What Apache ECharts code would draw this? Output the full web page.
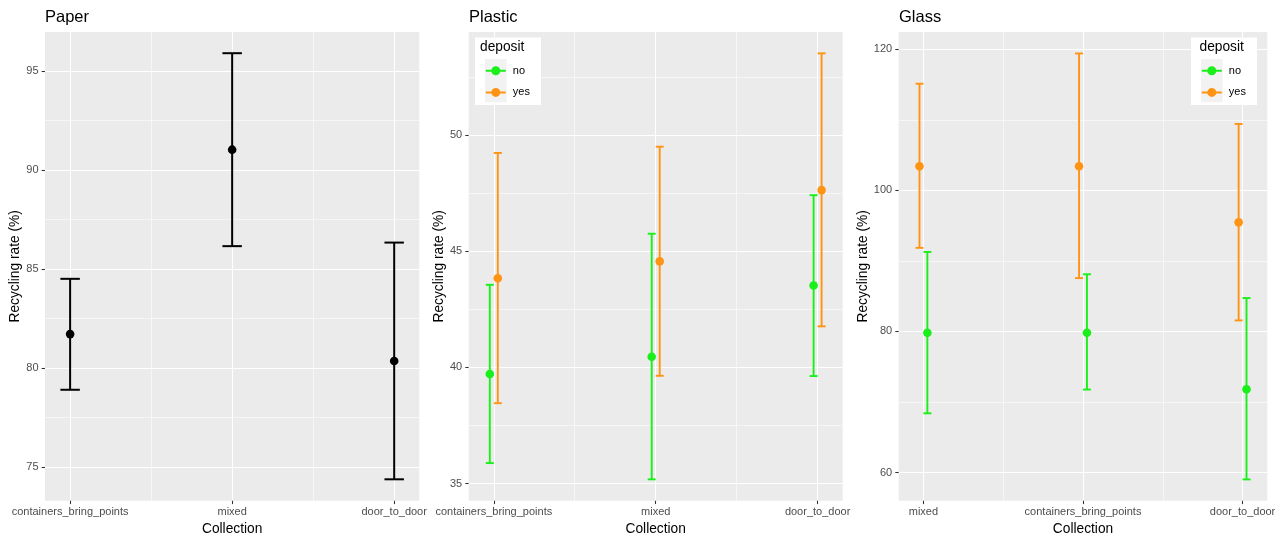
<!DOCTYPE html>
<html><head><meta charset="utf-8">
<script src="https://cdn.jsdelivr.net/npm/echarts@6/dist/echarts.min.js"></script>
<style>html,body{margin:0;padding:0;background:#fff}#c{width:1284px;height:539px}</style>
</head><body><div id="c"></div>
<script>
// ---------- data ----------
const paperCats = ['containers_bring_points', 'mixed', 'door_to_door'];
const paperMean = [81.72, 91.03, 80.36];
const paperLow  = [78.91, 86.16, 74.39];
const paperHigh = [84.51, 95.90, 86.34];

const plasticCats = ['containers_bring_points', 'mixed', 'door_to_door'];
const plasticNoMean  = [39.72, 40.46, 43.53];
const plasticNoLow   = [35.88, 35.18, 39.63];
const plasticNoHigh  = [43.56, 45.76, 47.42];
const plasticYesMean = [43.84, 44.57, 47.64];
const plasticYesLow  = [38.46, 39.64, 41.77];
const plasticYesHigh = [49.24, 49.51, 53.53];

const glassCats = ['mixed', 'containers_bring_points', 'door_to_door'];
const glassNoMean  = [79.80, 79.80, 71.80];
const glassNoLow   = [68.39, 71.76, 59.02];
const glassNoHigh  = [91.27, 88.10, 84.73];
const glassYesMean = [103.41, 103.41, 95.46];
const glassYesLow  = [91.85, 87.56, 81.56];
const glassYesHigh = [115.12, 119.41, 109.41];

const paperTicks = [75, 80, 85, 90, 95];
const paperMinor = [77.5, 82.5, 87.5, 92.5];
const plasticTicks = [35, 40, 45, 50];
const plasticMinor = [37.5, 42.5, 47.5, 52.5];
const glassTicks = [60, 80, 100, 120];
const glassMinor = [70, 90, 110];

const legendNames = ['no', 'yes'];
const panelTitles = ['Paper', 'Plastic', 'Glass'];

// ---------- style ----------
const FONT = '"Liberation Sans", Arial, Helvetica, sans-serif';
const GREEN = '#19ef19';
const ORANGE = '#ff9414';
const BLACK = '#000000';
const DODGE = 0.0247;

const chart = echarts.init(document.getElementById('c'), null, {renderer: 'canvas'});

function xAxesFor(gi, cats) {
  const idx = cats.map((_, i) => i);
  const minor = cats.slice(1).map((_, i) => i + 0.5);
  return [
    {
      type: 'value', gridIndex: gi, min: -0.155, max: 2.155,
      name: 'Collection', nameLocation: 'middle', nameGap: 16,
      nameTextStyle: {fontSize: 13.75, color: '#000', fontFamily: FONT},
      axisLine: {show: false, onZero: false},
      axisTick: {show: true, customValues: idx, length: 3.4, lineStyle: {color: '#333', width: 1.07}},
      axisLabel: {customValues: idx, formatter: v => cats[Math.round(v)], margin: 5.5,
                  fontSize: 11, color: '#4D4D4D', fontFamily: FONT},
      splitLine: {show: true, lineStyle: {color: '#fff', width: 1.07}}
    },
    {
      type: 'value', gridIndex: gi, min: -0.155, max: 2.155,
      axisLine: {show: false, onZero: false},
      axisTick: {show: false, customValues: minor},
      axisLabel: {show: false, customValues: minor},
      splitLine: {show: true, lineStyle: {color: '#fff', width: 0.55}}
    }
  ];
}

function yAxesFor(gi, ticks, minor, ymin, ymax, gap) {
  return [
    {
      type: 'value', gridIndex: gi, min: ymin, max: ymax, position: 'left',
      name: 'Recycling rate (%)', nameLocation: 'middle', nameGap: gap,
      nameTextStyle: {fontSize: 13.75, color: '#000', fontFamily: FONT},
      axisLine: {show: false, onZero: false},
      axisTick: {show: true, customValues: ticks, length: 3.4, lineStyle: {color: '#333', width: 1.07}},
      axisLabel: {customValues: ticks, margin: 6.5, fontSize: 11, color: '#4D4D4D', fontFamily: FONT},
      splitLine: {show: true, lineStyle: {color: '#fff', width: 1.07}}
    },
    {
      type: 'value', gridIndex: gi, min: ymin, max: ymax, position: 'left',
      axisLine: {show: false, onZero: false},
      axisTick: {show: false, customValues: minor},
      axisLabel: {show: false, customValues: minor},
      splitLine: {show: true, lineStyle: {color: '#fff', width: 0.55}}
    }
  ];
}

function errSeries(name, gi, offset, low, high, color, capHalf, lw) {
  return {
    type: 'custom', name: name, xAxisIndex: gi * 2, yAxisIndex: gi * 2,
    itemStyle: {color: color},
    encode: {x: 0, y: [1, 2]},
    data: low.map((l, i) => [i + offset, l, high[i]]),
    renderItem: (params, api) => {
      const x = api.value(0), lo = api.value(1), hi = api.value(2);
      const top = api.coord([x, hi]), bot = api.coord([x, lo]);
      const l = api.coord([x - capHalf, hi])[0], r = api.coord([x + capHalf, hi])[0];
      const style = {stroke: color, lineWidth: lw, fill: null};
      return {type: 'group', children: [
        {type: 'line', shape: {x1: top[0], y1: top[1], x2: bot[0], y2: bot[1]}, style: style},
        {type: 'line', shape: {x1: l, y1: top[1], x2: r, y2: top[1]}, style: style},
        {type: 'line', shape: {x1: l, y1: bot[1], x2: r, y2: bot[1]}, style: style}
      ]};
    },
    z: 2
  };
}

function ptSeries(name, gi, offset, mean, color) {
  return {
    type: 'scatter', name: name, xAxisIndex: gi * 2, yAxisIndex: gi * 2,
    symbol: 'circle', symbolSize: 8.6,
    itemStyle: {color: color, opacity: 1},
    data: mean.map((m, i) => [i + offset, m]),
    z: 3
  };
}

const ICON = 'path://M1,10L21,10L21,12L1,12ZM6.5,11A4.5,4.5,0,1,1,15.5,11A4.5,4.5,0,1,1,6.5,11Z';

function legendAt(left, top) {
  return {
    data: legendNames.map(n => ({name: n, icon: ICON})),
    orient: 'vertical', left: left, top: top, padding: 0,
    itemWidth: 20, itemHeight: 9, itemGap: 0,
    selectedMode: false,
    textStyle: {fontSize: 11, color: '#000', fontFamily: FONT, lineHeight: 21.6, padding: [0, 0, 0, 2]},
    z: 5
  };
}

function legendBox(x, y) {
  return [
    {type: 'rect', shape: {x: x, y: y, width: 66, height: 67.5}, style: {fill: '#fff'}, z: 3},
    {type: 'rect', shape: {x: x + 10, y: y + 21.5, width: 21.6, height: 43.2}, style: {fill: '#F2F2F2'}, z: 3}
  ];
}

const TS = {fontSize: 16.5, fontWeight: 'normal', color: '#000', fontFamily: FONT};
const LS = {fontSize: 13.75, fontWeight: 'normal', color: '#000', fontFamily: FONT};

const G = {show: true, backgroundColor: '#EBEBEB', borderWidth: 0, containLabel: false, outerBoundsMode: 'none'};

const option = {
  animation: false,
  backgroundColor: '#fff',
  title: [
    {text: panelTitles[0], left: 45, top: 9, padding: 0, textStyle: TS},
    {text: panelTitles[1], left: 469, top: 9, padding: 0, textStyle: TS},
    {text: panelTitles[2], left: 899, top: 9, padding: 0, textStyle: TS},
    {text: 'deposit', left: 480, top: 40, padding: 0, z: 7, textStyle: LS},
    {text: 'deposit', left: 1199.5, top: 40, padding: 0, z: 7, textStyle: LS}
  ],
  grid: [
    Object.assign({left: 45, top: 32, width: 374.3, height: 468.7}, G),
    Object.assign({left: 468.7, top: 32, width: 374, height: 468.7}, G),
    Object.assign({left: 898.7, top: 32, width: 368.6, height: 468.7}, G)
  ],
  xAxis: [].concat(xAxesFor(0, paperCats), xAxesFor(1, plasticCats), xAxesFor(2, glassCats)),
  yAxis: [].concat(
    yAxesFor(0, paperTicks, paperMinor, 73.31, 96.97, 18.5),
    yAxesFor(1, plasticTicks, plasticMinor, 34.26, 54.45, 19),
    yAxesFor(2, glassTicks, glassMinor, 56.0, 122.45, 19.5)
  ),
  legend: [legendAt(485.8, 60), legendAt(1201.8, 60)],
  graphic: {elements: [].concat(legendBox(475, 37.5), legendBox(1191, 37.5))},
  series: [
    errSeries('Paper', 0, 0, paperLow, paperHigh, BLACK, 0.06, 2),
    ptSeries('Paper', 0, 0, paperMean, BLACK),

    errSeries('no', 1, -DODGE, plasticNoLow, plasticNoHigh, GREEN, 0.0247, 1.9),
    ptSeries('no', 1, -DODGE, plasticNoMean, GREEN),
    errSeries('yes', 1, DODGE, plasticYesLow, plasticYesHigh, ORANGE, 0.0247, 1.9),
    ptSeries('yes', 1, DODGE, plasticYesMean, ORANGE),

    errSeries('no', 2, DODGE, glassNoLow, glassNoHigh, GREEN, 0.025, 1.9),
    ptSeries('no', 2, DODGE, glassNoMean, GREEN),
    errSeries('yes', 2, -DODGE, glassYesLow, glassYesHigh, ORANGE, 0.025, 1.9),
    ptSeries('yes', 2, -DODGE, glassYesMean, ORANGE)
  ]
};
chart.setOption(option);
</script></body></html>
